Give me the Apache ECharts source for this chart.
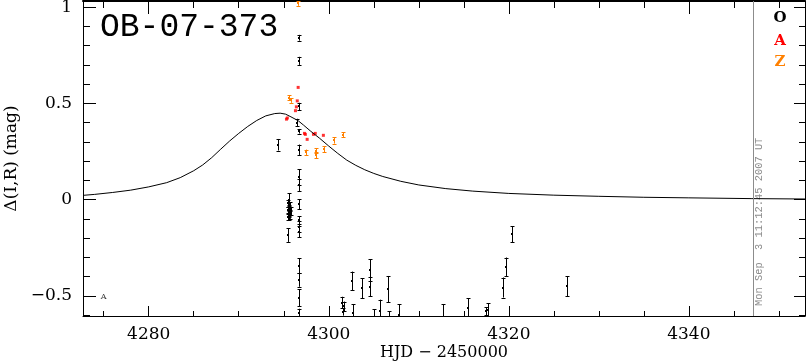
<!DOCTYPE html>
<html>
<head>
<meta charset="utf-8">
<script src="https://cdn.jsdelivr.net/npm/echarts@6/dist/echarts.min.js"></script>
<style>html,body{margin:0;padding:0;background:#fff;}#c{width:807px;height:362px;}</style>
</head>
<body>
<div id="c"></div>
<script>
// ---- data ----
const xMajor = [4280, 4300, 4320, 4340];
const xMinor = [4275, 4285, 4290, 4295, 4305, 4310, 4315, 4325, 4330, 4335, 4345, 4350];
const yMajor = [-0.5, 0, 0.5, 1];
const yMinor = [-0.6, -0.4, -0.3, -0.2, -0.1, 0.1, 0.2, 0.3, 0.4, 0.6, 0.7, 0.8, 0.9];

const modelDays = [4272.7, 4274, 4276, 4278, 4280, 4282, 4283.5, 4285, 4286, 4287, 4288, 4289, 4290, 4291, 4292, 4293, 4294, 4294.6, 4295.2, 4295.8, 4296.6, 4297.2, 4298, 4299, 4300, 4301, 4302, 4303, 4304, 4305, 4306, 4308, 4310, 4313, 4316, 4320, 4325, 4330, 4335, 4340, 4347, 4353];
const modelVals = [0.022, 0.027, 0.037, 0.049, 0.066, 0.088, 0.114, 0.150, 0.180, 0.218, 0.262, 0.305, 0.344, 0.380, 0.411, 0.435, 0.447, 0.449, 0.444, 0.430, 0.410, 0.387, 0.355, 0.318, 0.278, 0.240, 0.205, 0.178, 0.155, 0.136, 0.120, 0.095, 0.076, 0.057, 0.044, 0.032, 0.023, 0.017, 0.012, 0.009, 0.005, 0.003];

const oDays = [4296.7, 4296.7, 4296.7, 4296.5, 4296.7, 4294.4, 4296.7, 4296.7, 4296.7, 4296.7, 4296.7, 4296.7, 4296.7,
  4295.6, 4295.5, 4295.7, 4295.6, 4295.5, 4295.8, 4295.6, 4295.7, 4295.5, 4295.6, 4295.5,
  4296.7, 4296.7, 4296.7, 4296.7,
  4301.5, 4301.7, 4301.6, 4302.6, 4302.7, 4303.7, 4304.6, 4304.6, 4305.0, 4305.7, 4306.6, 4306.7, 4307.8, 4312.7, 4315.5, 4317.5, 4317.7, 4319.4, 4319.7, 4320.4, 4326.5];
const oVals = [0.841, 0.721, 0.484, 0.400, 0.355, 0.285, 0.259, 0.118, 0.075, -0.023, -0.107, -0.141, -0.167,
  0.000, -0.020, -0.035, -0.045, -0.055, -0.060, -0.070, -0.080, -0.090, -0.100, -0.185,
  -0.344, -0.418, -0.510, -0.592,
  -0.535, -0.555, -0.583, -0.422, -0.592, -0.462, -0.366, -0.453, -0.640, -0.580, -0.465, -0.650, -0.600, -0.630, -0.562, -0.580, -0.575, -0.457, -0.349, -0.180, -0.450];
const oErrs = [0.015, 0.021, 0.019, 0.020, 0.012, 0.030, 0.027, 0.040, 0.030, 0.026, 0.020, 0.030, 0.030,
  0.032, 0.020, 0.020, 0.015, 0.015, 0.020, 0.015, 0.020, 0.015, 0.008, 0.035,
  0.039, 0.035, 0.043, 0.025,
  0.030, 0.025, 0.020, 0.048, 0.047, 0.052, 0.057, 0.050, 0.070, 0.060, 0.068, 0.070, 0.056, 0.085, 0.050, 0.020, 0.035, 0.052, 0.048, 0.042, 0.051];

const aDays = [4296.6, 4296.5, 4296.4, 4296.3, 4295.3, 4295.4, 4297.3, 4297.4, 4297.6, 4298.3, 4298.5, 4299.4];
const aVals = [0.583, 0.513, 0.482, 0.462, 0.418, 0.424, 0.344, 0.339, 0.313, 0.339, 0.344, 0.334];

const zDays = [4296.6, 4295.6, 4295.8, 4297.5, 4298.6, 4298.6, 4299.5, 4300.6, 4301.6];
const zVals = [1.020, 0.529, 0.515, 0.245, 0.255, 0.230, 0.262, 0.308, 0.336];
const zErrs = [0.013, 0.012, 0.012, 0.015, 0.012, 0.015, 0.015, 0.017, 0.013];

const stampDay = 4347.1;
const noteDay = 4275.0, noteVal = -0.507;

// ---- chart ----
const chart = echarts.init(document.getElementById('c'), null, {renderer: 'canvas'});
const SERIF = 'DejaVu Serif';
const BLACK = '#000000', RED = '#ff0000', ORANGE = '#ff8000', GRAY = '#8c8c8c';

function errRender(color) {
  return function (params, api) {
    const x = api.value(0), y = api.value(1), e = api.value(2);
    const p = api.coord([x, y]);
    const t = api.coord([x, y + e]);
    const b = api.coord([x, y - e]);
    const px = Math.round(p[0]) + 0.5;
    const st = {stroke: color, lineWidth: 1};
    return {
      type: 'group',
      children: [
        {type: 'line', shape: {x1: px, y1: t[1], x2: px, y2: b[1]}, style: st},
        {type: 'line', shape: {x1: px - 2, y1: Math.round(t[1]) + 0.5, x2: px + 2, y2: Math.round(t[1]) + 0.5}, style: st},
        {type: 'line', shape: {x1: px - 2, y1: Math.round(b[1]) + 0.5, x2: px + 2, y2: Math.round(b[1]) + 0.5}, style: st},
        {type: 'rect', shape: {x: Math.round(p[0]) - 1, y: Math.round(p[1]) - 1, width: 2, height: 2}, style: {fill: color}}
      ]
    };
  };
}

const XMIN = 4272.7, XMAX = 4352.9, YMIN = -0.605, YMAX = 1.032;
function xAx(pos, vals, len, showLabel, showLine, lineW) {
  return {
    type: 'value', position: pos, min: XMIN, max: XMAX,
    axisLine: {show: showLine, onZero: false, lineStyle: {color: BLACK, width: lineW}},
    axisTick: {show: true, inside: true, length: len, customValues: vals, lineStyle: {color: BLACK, width: 1}},
    axisLabel: showLabel ? {show: true, customValues: vals, color: BLACK, fontFamily: SERIF, fontSize: 17, margin: 10,
      formatter: v => String(v)} : {show: false},
    splitLine: {show: false}
  };
}
function yAx(pos, vals, len, showLabel, showLine, lineW) {
  return {
    type: 'value', position: pos, min: YMIN, max: YMAX,
    axisLine: {show: showLine, onZero: false, lineStyle: {color: BLACK, width: lineW}},
    axisTick: {show: true, inside: true, length: len, customValues: vals, lineStyle: {color: BLACK, width: 1}},
    axisLabel: showLabel ? {show: true, customValues: vals, color: BLACK, fontFamily: SERIF, fontSize: 17, margin: 11,
      formatter: v => String(v).replace('-', '\u2212')} : {show: false},
    splitLine: {show: false}
  };
}

const xAxes = [
  Object.assign(xAx('bottom', xMajor, 10, true, true, 1), {
    name: 'HJD \u2212 2450000', nameLocation: 'middle', nameGap: 29, nameMoveOverlap: false,
    nameTextStyle: {color: BLACK, fontFamily: SERIF, fontSize: 16}
  }),
  xAx('bottom', xMinor, 5, false, false, 1),
  xAx('top', xMajor, 13, false, true, 2),
  xAx('top', xMinor, 7, false, false, 1)
];
const yAxes = [
  Object.assign(yAx('left', yMajor, 13, true, true, 1), {
    name: '\u0394(I,R) (mag)', nameLocation: 'middle', nameGap: 63, nameMoveOverlap: false,
    nameTextStyle: {color: BLACK, fontFamily: SERIF, fontSize: 17}
  }),
  yAx('left', yMinor, 7, false, false, 1),
  yAx('right', yMajor, 11, false, true, 1),
  yAx('right', yMinor, 6, false, false, 1)
];

const option = {
  backgroundColor: '#ffffff',
  animation: false,
  grid: {left: 83, right: 2, top: 1, bottom: 46, containLabel: false, outerBoundsMode: 'none'},
  xAxis: xAxes,
  yAxis: yAxes,
  series: [
    {
      type: 'line', xAxisIndex: 0, yAxisIndex: 0,
      data: modelDays.map((d, i) => [d, modelVals[i]]),
      showSymbol: false, smooth: false, clip: true,
      lineStyle: {color: BLACK, width: 1},
      markLine: {
        silent: true, symbol: 'none', animation: false,
        label: {show: false},
        lineStyle: {color: GRAY, width: 1, type: 'solid'},
        data: [{xAxis: stampDay}]
      }
    },
    {
      type: 'custom', xAxisIndex: 0, yAxisIndex: 0, clip: true,
      renderItem: errRender(BLACK),
      data: oDays.map((d, i) => [d, oVals[i], oErrs[i]])
    },
    {
      type: 'custom', xAxisIndex: 0, yAxisIndex: 0, clip: true,
      renderItem: errRender(ORANGE),
      data: zDays.map((d, i) => [d, zVals[i], zErrs[i]])
    },
    {
      type: 'scatter', xAxisIndex: 0, yAxisIndex: 0, clip: true,
      symbol: 'rect', symbolSize: 3,
      itemStyle: {color: RED},
      data: aDays.map((d, i) => [d, aVals[i]])
    },
    {
      type: 'scatter', xAxisIndex: 0, yAxisIndex: 0,
      symbolSize: 6, itemStyle: {color: 'rgba(0,0,0,0)'},
      label: {show: true, position: 'inside', formatter: 'A', color: BLACK, fontFamily: SERIF, fontSize: 8},
      data: [[noteDay, noteVal]]
    }
  ],
  graphic: [
    {type: 'text', left: 100, top: 11, style: {text: 'OB-07-373', fill: BLACK, font: '33px "Liberation Mono"'}},
    {type: 'text', x: 780, y: 18, style: {text: 'O', fill: BLACK, font: 'bold 15px "DejaVu Serif"', align: 'center', verticalAlign: 'middle'}},
    {type: 'text', x: 780, y: 41, style: {text: 'A', fill: RED, font: 'bold 15px "DejaVu Serif"', align: 'center', verticalAlign: 'middle'}},
    {type: 'text', x: 780, y: 62, style: {text: 'Z', fill: ORANGE, font: 'bold 15px "DejaVu Serif"', align: 'center', verticalAlign: 'middle'}},
    {type: 'text', x: 759, y: 306, rotation: Math.PI / 2,
      style: {text: 'Mon Sep  3 11:12:45 2007 UT', fill: GRAY, font: '10.4px "Liberation Mono"', align: 'left', verticalAlign: 'middle'}}
  ]
};
chart.setOption(option);
</script>
</body>
</html>
